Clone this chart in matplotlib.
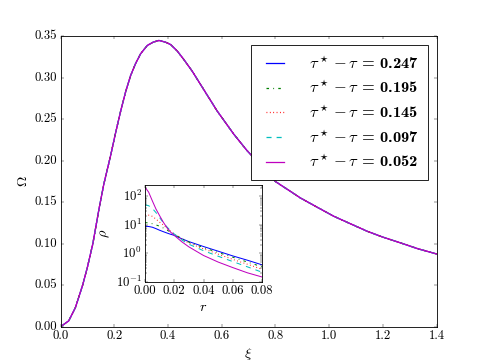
import matplotlib
matplotlib.use("Agg")
import matplotlib.pyplot as plt

plt.style.use("classic")
plt.rcParams["font.family"] = "serif"
plt.rcParams["font.serif"] = ["cmr10"]
plt.rcParams["mathtext.fontset"] = "cm"
plt.rcParams["axes.formatter.use_mathtext"] = True
plt.rcParams["xtick.labelsize"] = 15
plt.rcParams["ytick.labelsize"] = 15

# main curve Omega(xi) (all five runs overlap)
xi = [0.0, 0.03, 0.055, 0.082, 0.10, 0.12, 0.143, 0.161, 0.186, 0.205, 0.223,
      0.242, 0.261, 0.279, 0.298, 0.323, 0.345, 0.366, 0.39, 0.41, 0.435, 0.459,
      0.49, 0.521, 0.552, 0.583, 0.614, 0.645, 0.695, 0.75, 0.80, 0.894, 0.95,
      1.018, 1.08, 1.142, 1.20, 1.266, 1.33, 1.40]
omega = [0.0, 0.007, 0.023, 0.05, 0.072, 0.10, 0.142, 0.172, 0.206, 0.234, 0.259,
         0.283, 0.303, 0.317, 0.329, 0.339, 0.343, 0.345, 0.343, 0.340, 0.332, 0.322,
         0.308, 0.292, 0.276, 0.260, 0.246, 0.232, 0.212, 0.193, 0.175, 0.155, 0.145,
         0.133, 0.124, 0.115, 0.108, 0.101, 0.094, 0.0877]

# inset: density profiles rho(r)
r = [0, 0.0025, 0.005, 0.0075, 0.01, 0.0125, 0.015, 0.0175, 0.02, 0.025, 0.03,
     0.04, 0.05, 0.06, 0.07, 0.08]
rho_247 = [9.0, 8.8, 8.3, 7.4, 6.5, 5.8, 5.2, 4.7, 4.3, 3.3, 2.6, 1.75, 1.2, 0.82, 0.58, 0.40]
rho_195 = [12, 11.8, 11, 10, 9, 7.8, 6.6, 5.6, 4.7, 3.4, 2.5, 1.6, 1.08, 0.74, 0.5, 0.34]
rho_145 = [23, 22, 20, 16, 12.5, 10, 7.5, 6.0, 4.8, 3.2, 2.3, 1.45, 0.95, 0.62, 0.42, 0.28]
rho_097 = [51, 47, 38, 27, 18, 12, 8.5, 6.2, 4.8, 3.0, 2.1, 1.25, 0.8, 0.52, 0.34, 0.22]
rho_052 = [210, 140, 70, 36, 21, 12.5, 8.0, 5.6, 4.3, 2.6, 1.7, 0.85, 0.5, 0.32, 0.21, 0.15]

gaps = ["0.247", "0.195", "0.145", "0.097", "0.052"]
profiles = [rho_247, rho_195, rho_145, rho_097, rho_052]
colors = ["b", "g", "r", "c", "m"]
styles = ["-", "-.", ":", "--", "-"]

fig = plt.figure(figsize=(8, 363 / 60.625), dpi=60.625)
ax = fig.add_subplot(111)

for gap, c, ls in zip(gaps, colors, styles):
    ax.plot(xi, omega, color=c, ls=ls, lw=1.5,
            label=r"$\tau^\star - \tau$ = " + gap)

ax.set_xlim(0, 1.4)
ax.set_ylim(0, 0.35)
ax.set_xticks([0.0, 0.2, 0.4, 0.6, 0.8, 1.0, 1.2, 1.4])
ax.set_yticks([0.0, 0.05, 0.10, 0.15, 0.20, 0.25, 0.30, 0.35])
ax.set_xticklabels(["0.0", "0.2", "0.4", "0.6", "0.8", "1.0", "1.2", "1.4"])
ax.set_yticklabels(["0.00", "0.05", "0.10", "0.15", "0.20", "0.25", "0.30", "0.35"])
ax.set_xlabel(r"$\xi$", fontsize=17)
ax.set_ylabel(r"$\Omega$", fontsize=17)

leg = ax.legend(loc="upper right", prop={"family": "cmb10", "size": 19.5},
                fancybox=False, handlelength=1.7, handletextpad=1.2,
                labelspacing=0.45, borderpad=0.6)
leg.get_frame().set_edgecolor("black")

ins = fig.add_axes([145 / 485, 1 - 282 / 363, 117 / 485, 97 / 363])
for rho, c, ls in zip(profiles, colors, styles):
    ins.plot(r, rho, color=c, ls=ls, lw=1.2)
ins.set_yscale("log")
ins.set_xlim(0, 0.08)
ins.set_ylim(0.1, 250)
ins.set_xticks([0.0, 0.02, 0.04, 0.06, 0.08])
ins.set_xticklabels(["0.00", "0.02", "0.04", "0.06", "0.08"])
ins.set_xlabel(r"$r$", fontsize=17)
ins.set_ylabel(r"$\rho$", fontsize=17)

fig.savefig("out.png", dpi=60.625)
